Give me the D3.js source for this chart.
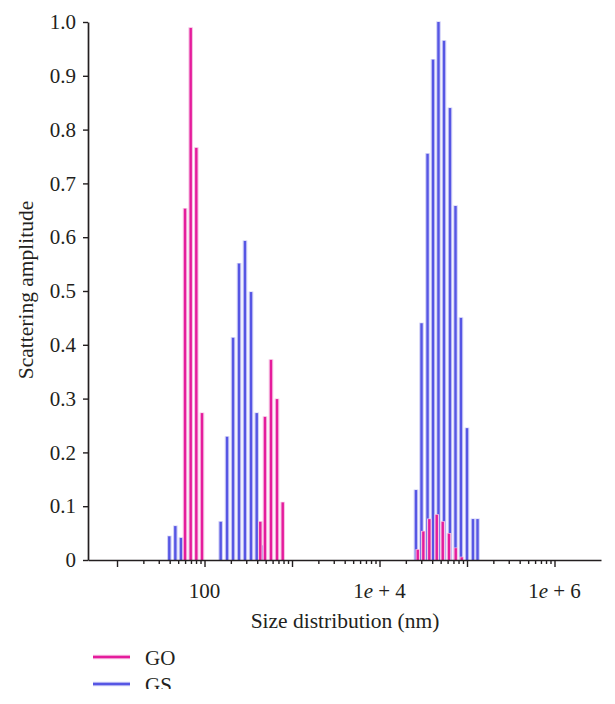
<!DOCTYPE html>
<html>
<head>
<meta charset="utf-8">
<script src="https://cdn.jsdelivr.net/npm/d3@7"></script>
<style>
  html, body { margin: 0; padding: 0; background: #fff; }
  svg { display: block; }
  text { font-family: "Liberation Serif", "DejaVu Serif", serif; fill: #231f20; }
</style>
</head>
<body>
<svg id="chart" width="615" height="704"></svg>
<script>
// ---- data (size in nm, scattering amplitude) ----
const goSize = [59.9, 69.5, 80.6, 93.6, 434, 491, 575, 674, 783,
                27350, 31700, 37100, 45100, 52800, 62300, 74300, 86900];
const goAmp  = [0.653, 0.989, 0.766, 0.273, 0.071, 0.266, 0.372, 0.299, 0.107,
                0.019, 0.053, 0.076, 0.084, 0.071, 0.049, 0.022, 0.005];

const gsSize = [39.6, 46.4, 53.8, 153, 181, 212, 248, 290, 340, 395, 454,
                26100, 30200, 35400, 40900, 47200, 54600, 63900, 73900, 85300, 100000, 117000, 131900];
const gsAmp  = [0.044, 0.063, 0.041, 0.071, 0.229, 0.413, 0.551, 0.593, 0.498, 0.273, 0.027,
                0.13, 0.44, 0.755, 0.93, 1.0, 0.965, 0.84, 0.658, 0.45, 0.245, 0.076, 0.076];

const yTicks = [0, 0.1, 0.2, 0.3, 0.4, 0.5, 0.6, 0.7, 0.8, 0.9, 1.0];
const xLabelTicks = [100, 1e4, 1e6];
const seriesNames = ["GO", "GS"];
const xTitle = "Size distribution (nm)";
const yTitle = "Scattering amplitude";

(function () {
// ---- layout ----
const svg = d3.select("#chart");
const mLeft = 88, mRight = 601, mTop = 22, mBottom = 560;
const colors = { GO: "#e51c9c", GS: "#5656e4" };
const halo = { GO: "#f6c4e4", GS: "#cfcff7" };
const fsTick = 21, fsTitle = 21.5;

const x = d3.scaleLog().domain([4.66, 3.4e6]).range([mLeft, mRight]);
const y = d3.scaleLinear().domain([0, 1]).range([mBottom, mTop]);

// ---- bars ----
function drawBars(sizes, amps, name) {
  const data = sizes.map((s, i) => ({ s, a: amps[i] }));
  const g = svg.append("g");
  g.selectAll("rect.halo").data(data).join("rect").attr("class", "halo")
    .attr("x", d => x(d.s) - 2.3).attr("width", 4.6)
    .attr("y", d => y(d.a) - 0.6).attr("height", d => mBottom - y(d.a) + 0.6)
    .attr("fill", halo[name]);
  g.selectAll("rect.bar").data(data).join("rect").attr("class", "bar")
    .attr("x", d => x(d.s) - 1.2).attr("width", 2.4)
    .attr("y", d => y(d.a)).attr("height", d => mBottom - y(d.a))
    .attr("fill", colors[name]);
}
drawBars(gsSize, gsAmp, "GS");
drawBars(goSize, goAmp, "GO");

// ---- x axis ----
const xTickVals = [];
for (let k = 1; k <= 6; k++) {
  for (let m = 1; m <= 9; m++) {
    const v = m * Math.pow(10, k);
    if (v <= 1e6) xTickVals.push(v);
  }
}
const xAxis = d3.axisBottom(x).tickValues(xTickVals).tickSizeOuter(0).tickSizeInner(4).tickFormat("");
const gx = svg.append("g").attr("transform", `translate(0,${mBottom})`).call(xAxis);
gx.select(".domain").attr("stroke", "#231f20").attr("stroke-width", 1.7);
gx.selectAll(".tick line").attr("stroke", "#231f20").attr("stroke-width", 1.4)
  .attr("y2", d => (Math.abs(Math.log10(d) - Math.round(Math.log10(d))) < 1e-9) ? 7 : 4);

// x tick labels
const xl = svg.append("g");
xLabelTicks.forEach(v => {
  const t = xl.append("text").attr("x", x(v)).attr("y", 598)
    .attr("text-anchor", "middle").attr("font-size", fsTick);
  const p = Math.round(Math.log10(v));
  if (v === 100) { t.text("100"); }
  else {
    t.append("tspan").text("1");
    t.append("tspan").attr("font-style", "italic").text("e");
    t.append("tspan").text(" + " + p);
  }
});

// ---- y axis ----
const yAxis = d3.axisLeft(y).tickValues(yTicks).tickSizeOuter(0).tickSizeInner(5)
  .tickPadding(7)
  .tickFormat(d => d === 0 ? "0" : d3.format(".1f")(d));
const gy = svg.append("g").attr("transform", `translate(${mLeft},0)`).call(yAxis);
gy.select(".domain").attr("stroke", "#231f20").attr("stroke-width", 1.7);
gy.selectAll(".tick line").attr("stroke", "#231f20").attr("stroke-width", 1.4);
gy.selectAll(".tick text").attr("font-size", fsTick).attr("fill", "#231f20")
  .attr("font-family", "Liberation Serif, DejaVu Serif, serif");

// ---- titles ----
svg.append("text").attr("x", 345).attr("y", 628).attr("text-anchor", "middle")
  .attr("font-size", fsTitle).text(xTitle);
svg.append("text").attr("transform", "translate(33,290) rotate(-90)")
  .attr("text-anchor", "middle").attr("font-size", fsTitle).text(yTitle);

// ---- legend ----
svg.append("clipPath").attr("id", "legclip").append("rect")
  .attr("x", 0).attr("y", 630).attr("width", 615).attr("height", 59);
const leg = svg.append("g").attr("clip-path", "url(#legclip)");
seriesNames.forEach((n, i) => {
  const cy = 657 + i * 27;
  leg.append("line").attr("x1", 93).attr("x2", 130).attr("y1", cy).attr("y2", cy)
    .attr("stroke", halo[n]).attr("stroke-width", 4.5);
  leg.append("line").attr("x1", 93).attr("x2", 130).attr("y1", cy).attr("y2", cy)
    .attr("stroke", colors[n]).attr("stroke-width", 2.6);
  leg.append("text").attr("x", 145).attr("y", cy + 8).attr("font-size", 21).text(n);
});
})();
</script>
</body>
</html>
